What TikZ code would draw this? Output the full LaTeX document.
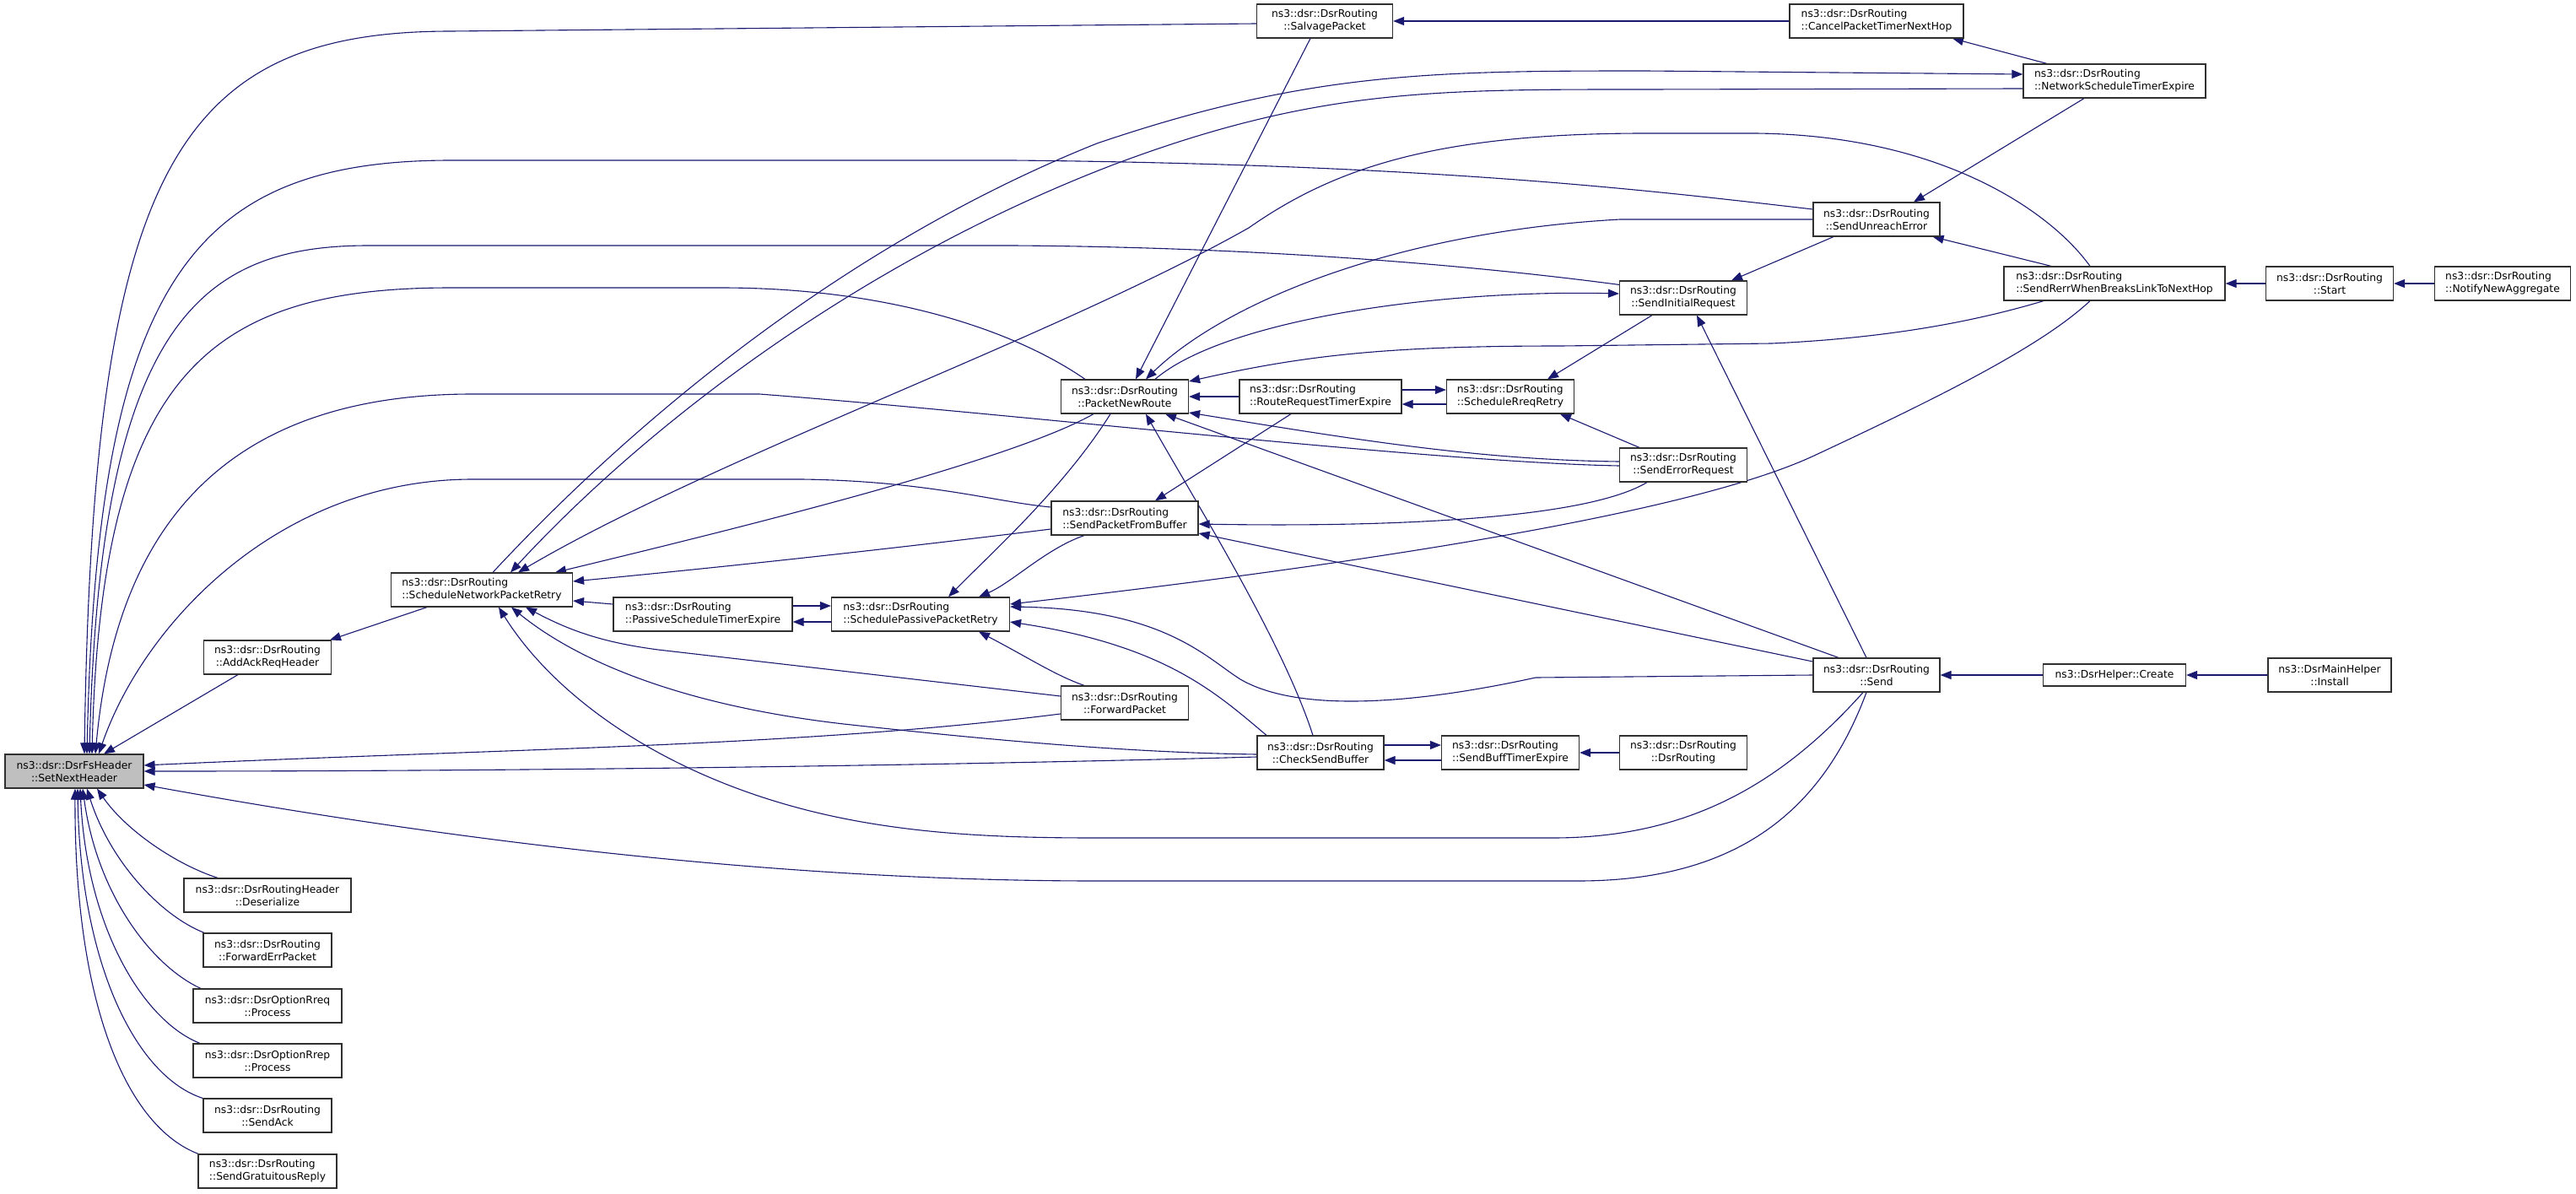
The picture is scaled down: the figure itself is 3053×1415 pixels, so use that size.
\documentclass[tikz,border=0pt]{standalone}
\usepackage{fontspec}
\setmainfont{DejaVu Sans}
\definecolor{edgeblue}{RGB}{25, 25, 112}
\definecolor{rootgray}{RGB}{191, 191, 191}
\definecolor{boxline}{RGB}{48, 48, 48}
\usetikzlibrary{arrows.meta, backgrounds}

\begin{document}
\begin{tikzpicture}[x=1pt, y=-1pt,
        >={Triangle[length=13pt, width=10pt]},
        fn/.style={draw=boxline, line width=1.2pt, fill=white, font=\fontsize{12.3}{15}\selectfont,
                   align=center, inner sep=2pt, minimum height=40pt},
        lft/.style={fn, align=left},
        root/.style={fn, fill=rootgray},
        call/.style={draw=edgeblue, line width=1.1pt, <-}]
        \useasboundingbox (0,0) rectangle (3053,1415);

        \node[root, minimum width=164pt] (snh) at (88,914) {ns3::dsr::DsrFsHeader\\::SetNextHeader};
        \node[fn, minimum width=151pt] (aarh) at (317,779) {ns3::dsr::DsrRouting\\::AddAckReqHeader};
        \node[fn, minimum width=198pt] (des) at (317,1061) {ns3::dsr::DsrRoutingHeader\\::Deserialize};
        \node[fn, minimum width=152pt] (fep) at (317,1126) {ns3::dsr::DsrRouting\\::ForwardErrPacket};
        \node[fn, minimum width=176pt] (rreq) at (317,1192) {ns3::dsr::DsrOptionRreq\\::Process};
        \node[fn, minimum width=176pt] (rrep) at (317,1257) {ns3::dsr::DsrOptionRrep\\::Process};
        \node[fn, minimum width=152pt] (sack) at (317,1322) {ns3::dsr::DsrRouting\\::SendAck};
        \node[lft, minimum width=164pt] (sgr) at (317,1388) {ns3::dsr::DsrRouting\\::SendGratuitousReply};
        \node[lft, minimum width=215pt] (snpr) at (571,699) {ns3::dsr::DsrRouting\\::ScheduleNetworkPacketRetry};
        \node[lft, minimum width=212pt] (pste) at (833,728) {ns3::dsr::DsrRouting\\::PassiveScheduleTimerExpire};
        \node[lft, minimum width=211pt] (sppr) at (1091,728) {ns3::dsr::DsrRouting\\::SchedulePassivePacketRetry};
        \node[fn, minimum width=151pt] (pnr) at (1333,470) {ns3::dsr::DsrRouting\\::PacketNewRoute};
        \node[lft, minimum width=192pt] (rrte) at (1565,470) {ns3::dsr::DsrRouting\\::RouteRequestTimerExpire};
        \node[lft, minimum width=151pt] (srr) at (1790,470) {ns3::dsr::DsrRouting\\::ScheduleRreqRetry};
        \node[lft, minimum width=174pt] (spfb) at (1333,614) {ns3::dsr::DsrRouting\\::SendPacketFromBuffer};
        \node[fn, minimum width=151pt] (fwp) at (1333,833) {ns3::dsr::DsrRouting\\::ForwardPacket};
        \node[fn, minimum width=150pt] (csb) at (1565,892) {ns3::dsr::DsrRouting\\::CheckSendBuffer};
        \node[lft, minimum width=163pt] (sbte) at (1790,892) {ns3::dsr::DsrRouting\\::SendBuffTimerExpire};
        \node[fn, minimum width=151pt] (dsr) at (1995,892) {ns3::dsr::DsrRouting\\::DsrRouting};
        \node[fn, minimum width=161pt] (salv) at (1570,25) {ns3::dsr::DsrRouting\\::SalvagePacket};
        \node[lft, minimum width=206pt] (cancel) at (2224,25) {ns3::dsr::DsrRouting\\::CancelPacketTimerNextHop};
        \node[lft, minimum width=216pt] (nst) at (2506,96) {ns3::dsr::DsrRouting\\::NetworkScheduleTimerExpire};
        \node[fn, minimum width=150pt] (sue) at (2224,260) {ns3::dsr::DsrRouting\\::SendUnreachError};
        \node[fn, minimum width=151pt] (sir) at (1995,353) {ns3::dsr::DsrRouting\\::SendInitialRequest};
        \node[lft, minimum width=262pt] (srwb) at (2506,336) {ns3::dsr::DsrRouting\\::SendRerrWhenBreaksLinkToNextHop};
        \node[fn, minimum width=151pt] (ser) at (1995,551) {ns3::dsr::DsrRouting\\::SendErrorRequest};
        \node[fn, minimum width=151pt] (start) at (2761,336) {ns3::dsr::DsrRouting\\::Start};
        \node[lft, minimum width=161pt] (nna) at (2966,336) {ns3::dsr::DsrRouting\\::NotifyNewAggregate};
        \node[fn, minimum width=150pt] (send) at (2224,800) {ns3::dsr::DsrRouting\\::Send};
        \node[fn, minimum width=169pt, minimum height=26pt] (create) at (2506,800) {ns3::DsrHelper::Create};
        \node[fn, minimum width=146pt] (install) at (2761,800) {ns3::DsrMainHelper\\::Install};

        \begin{scope}[on background layer]
        \draw[call] ([xshift=12pt]snh.north) .. controls (110,200) and (210,37) .. (535,37) -- ([yshift=-3pt]salv.west);
        \draw[call] ([xshift=15pt]snh.north) .. controls (115,330) and (230,190) .. (535,190) -- (1200,190) .. controls (1700,195) and (1950,225) .. ([yshift=12pt]sue.west);
        \draw[call] ([xshift=18pt]snh.north) .. controls (118,380) and (240,291) .. (437,291) -- (1200,291) .. controls (1500,293) and (1750,315) .. ([yshift=-5pt]sir.north west);
        \draw[call] ([xshift=21pt]snh.north) .. controls (120,440) and (250,341) .. (535,341) -- (854,341) .. controls (1050,341) and (1200,390) .. ([xshift=-47pt]pnr.north);
        \draw[call] ([xshift=25pt]snh.north) .. controls (140,600) and (290,467) .. (560,467) -- (900,467) .. controls (1200,490) and (1700,548) .. ([yshift=-1pt]ser.west);
        \draw[call] ([xshift=29pt]snh.north) .. controls (170,740) and (330,568) .. (560,568) -- (950,568) .. controls (1100,570) and (1180,595) .. ([yshift=13pt]spfb.west);
        \draw[call] ([xshift=35pt]snh.north) -- ([xshift=-35pt]aarh.south);
        \draw[call] ([xshift=27pt]snh.south) .. controls (150,985) and (210,1025) .. ([xshift=-59pt]des.north);
        \draw[call] ([xshift=15pt]snh.south) .. controls (130,1020) and (190,1085) .. ([xshift=-75pt]fep.north);
        \draw[call] ([xshift=10pt]snh.south) .. controls (115,1060) and (180,1145) .. ([xshift=-79pt]rreq.north);
        \draw[call] ([xshift=7pt]snh.south) .. controls (103,1100) and (170,1210) .. ([xshift=-80pt]rrep.north);
        \draw[call] ([xshift=4pt]snh.south) .. controls (95,1140) and (160,1275) .. ([xshift=-77pt]sack.north);
        \draw[call] ([xshift=1pt]snh.south) .. controls (88,1190) and (150,1335) .. ([xshift=-82pt]sgr.north);
        \draw[call] ([yshift=7pt]snh.east) .. controls (600,887) and (950,885) .. ([yshift=-13pt]fwp.west);
        \draw[call] (snh.east) .. controls (700,914) and (1200,905) .. ([yshift=-5pt]csb.west);
        \draw[call] ([yshift=-16pt]snh.east) .. controls (500,990) and (900,1044) .. (1300,1044) -- (1870,1044) .. controls (2060,1044) and (2160,960) .. ([xshift=-12pt]send.south);

        \draw[call] ([xshift=74pt]aarh.north) -- ([xshift=-65pt]snpr.south);
        \draw[call] ([yshift=8pt]nst.west) -- (1950,84) .. controls (1700,84) and (1550,85) .. (1300,170) .. controls (1000,290) and (750,500) .. ([xshift=13pt]snpr.north);
        \draw[call] ([xshift=34pt]snpr.north) .. controls (770,500) and (1020,310) .. (1320,195) .. controls (1560,105) and (1700,106) .. (1950,106) -- ([yshift=-9pt]nst.west);
        \draw[call] ([xshift=43pt]snpr.north) .. controls (850,540) and (1250,400) .. (1480,270) .. controls (1580,200) and (1700,158) .. (1950,158) -- (2080,158) .. controls (2300,160) and (2430,250) .. ([xshift=-29pt]srwb.north);
        \draw[call] ([xshift=87pt]snpr.north) .. controls (900,620) and (1200,545) .. ([xshift=-37pt]pnr.south);
        \draw[call] ([yshift=10pt]snpr.east) .. controls (900,668) and (1100,645) .. ([yshift=-13pt]spfb.west);
        \draw[call] ([yshift=-13pt]snpr.east) -- ([yshift=12pt]pste.west);
        \draw[call] ([xshift=52pt]snpr.south) .. controls (680,750) and (720,762) .. (780,770) -- ([yshift=8pt]fwp.west);
        \draw[call] ([xshift=35pt]snpr.south) .. controls (680,780) and (800,835) .. (1000,858) .. controls (1200,880) and (1350,892) .. ([yshift=-2pt]csb.west);
        \draw[call] ([xshift=20pt]snpr.south) .. controls (660,830) and (800,930) .. (1000,970) .. controls (1100,990) and (1200,993) .. (1300,993) -- (1840,993) .. controls (2000,993) and (2110,930) .. ([xshift=-16pt]send.south);

        \draw[call] ([yshift=10pt]sppr.west) -- ([yshift=10pt]pste.east);
        \draw[call] ([yshift=-9pt]pste.east) -- ([yshift=-9pt]sppr.west);
        \draw[call] ([xshift=33pt]sppr.north) .. controls (1170,660) and (1260,580) .. ([xshift=-17pt]pnr.south);
        \draw[call] ([xshift=69pt]sppr.north) .. controls (1200,690) and (1240,650) .. ([xshift=-48pt]spfb.south);
        \draw[call] ([yshift=12pt]sppr.east) .. controls (1600,670) and (2000,610) .. (2150,540) .. controls (2300,470) and (2420,410) .. ([xshift=-29pt]srwb.south);
        \draw[call] ([yshift=9pt]sppr.east) .. controls (1380,722) and (1430,780) .. (1470,805) .. controls (1530,840) and (1650,840) .. (1820,803) -- (send.west);
        \draw[call] ([yshift=-9pt]sppr.east) .. controls (1380,765) and (1440,820) .. ([xshift=-64pt]csb.north);
        \draw[call] ([xshift=69pt]sppr.south) .. controls (1220,780) and (1250,800) .. ([xshift=-48pt]fwp.north);

        \draw[call] ([xshift=13pt]pnr.north) -- ([xshift=-17pt]salv.south);
        \draw[call] ([xshift=25pt]pnr.north) .. controls (1450,360) and (1650,275) .. (1920,260) -- (sue.west);
        \draw[call] ([yshift=5pt]sir.west) .. controls (1700,343) and (1450,380) .. ([xshift=36pt]pnr.north);
        \draw[call] (pnr.east) -- (rrte.west);
        \draw[call] ([yshift=18pt]pnr.east) .. controls (1550,420) and (1650,410) .. (1850,410) -- (2100,407) .. controls (2250,400) and (2350,378) .. ([xshift=-84pt]srwb.south);
        \draw[call] ([yshift=-19pt]pnr.east) .. controls (1600,520) and (1750,545) .. ([yshift=4pt]ser.west);
        \draw[call] ([xshift=25pt]pnr.south) .. controls (1420,600) and (1520,760) .. ([xshift=-9pt]csb.north);
        \draw[call] ([xshift=48pt]pnr.south) -- ([xshift=-45pt]send.north);

        \draw[call] ([xshift=36pt]spfb.north) -- ([xshift=-35pt]rrte.south);
        \draw[call] ([yshift=-7pt]spfb.east) .. controls (1650,625) and (1880,615) .. ([xshift=-43pt]ser.south);
        \draw[call] ([yshift=-18pt]spfb.east) -- ([yshift=16pt]send.west);

        \draw[call] ([yshift=8pt]srr.west) -- ([yshift=8pt]rrte.east);
        \draw[call] ([yshift=-9pt]rrte.east) -- ([yshift=-9pt]srr.west);
        \draw[call] ([xshift=44pt]srr.north) -- ([xshift=-37pt]sir.south);
        \draw[call] ([xshift=59pt]srr.south) -- ([xshift=-52pt]ser.north);
        \draw[call] ([xshift=57pt]sir.north) -- ([xshift=-51pt]sue.south);
        \draw[call] ([xshift=16pt]sir.south) -- ([xshift=-12pt]send.north);
        \draw[call] ([xshift=44pt]sue.north) -- ([xshift=-36pt]nst.south);
        \draw[call] ([xshift=-9pt]sue.south east) -- ([xshift=-75pt]srwb.north);
        \draw[call] (salv.east) -- (cancel.west);
        \draw[call] ([xshift=90pt]cancel.south) -- ([xshift=-80pt]nst.north);
        \draw[call] (srwb.east) -- (start.west);
        \draw[call] (start.east) -- (nna.west);
        \draw[call] ([yshift=-9pt]csb.east) -- ([yshift=-9pt]sbte.west);
        \draw[call] ([yshift=9pt]sbte.west) -- ([yshift=9pt]csb.east);
        \draw[call] (sbte.east) -- (dsr.west);
        \draw[call] (send.east) -- (create.west);
        \draw[call] (create.east) -- (install.west);
        \end{scope}
      \end{tikzpicture}
\end{document}
